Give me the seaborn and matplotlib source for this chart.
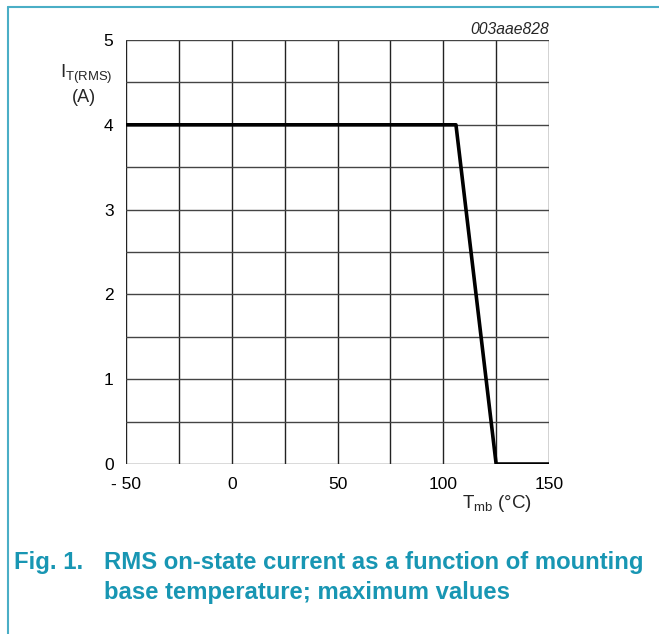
import matplotlib
matplotlib.use("Agg")
import matplotlib.pyplot as plt
import seaborn as sns
import pandas as pd
from matplotlib.lines import Line2D

sns.set_theme(style="white")
plt.rcParams['font.family'] = ['Liberation Sans', 'DejaVu Sans']
plt.rcParams['mathtext.fontset'] = 'custom'
plt.rcParams['mathtext.rm'] = 'Liberation Sans'

temp = [-50, 106, 125, 150]
current = [4, 4, 0, 0]
xticks = [-50, 0, 50, 100, 150]
xticklabels = ['- 50', '0', '50', '100', '150']
yticks = [0, 1, 2, 3, 4, 5]

df = pd.DataFrame({'Tmb': temp, 'I': current})

fig = plt.figure(figsize=(6.59, 6.34), dpi=100)
ax = fig.add_axes([0.1912, 0.2681, 0.6419, 0.6688])

# grid
for gx in range(-50, 151, 25):
    ax.axvline(gx, color='#222222', lw=1.0, zorder=1)
for gy in [i * 0.5 for i in range(11)]:
    ax.axhline(gy, color='#444444', lw=1.0, zorder=1)

sns.lineplot(data=df, x='Tmb', y='I', ax=ax, color='black', lw=2.6, zorder=3)

ax.set_xlim(-50, 150)
ax.set_ylim(0, 5)
ax.set_xticks(xticks)
ax.set_xticklabels(xticklabels)
ax.set_yticks(yticks)
ax.tick_params(axis='both', length=0, labelsize=12.5, colors='black')
ax.tick_params(axis='y', pad=9)
ax.tick_params(axis='x', pad=9.5)
for s in ax.spines.values():
    s.set_visible(False)
ax.set_xlabel('')
ax.set_ylabel('')

fig.text(113 / 659, 1 - 74 / 634, r'I$_{\mathregular{T(RMS)}}$', ha='right', va='center', fontsize=13.5)
fig.text(84 / 659, 1 - 97 / 634, '(A)', ha='center', va='center', fontsize=13)
fig.text(497 / 659, 1 - 504 / 634, r'T$_{\mathregular{mb}}$ (°C)', ha='center', va='center', fontsize=13.5)
fig.text(549 / 659, 1 - 30 / 634, '003aae828', ha='right', va='center', fontsize=11.3, style='italic')

cap = '#1896b3'
fig.text(14 / 659, 1 - 563 / 634, 'Fig. 1.', ha='left', va='center', fontsize=17.2, fontweight='bold', color=cap)
fig.text(104 / 659, 1 - 563 / 634, 'RMS on-state current as a function of mounting', ha='left', va='center', fontsize=17.2, fontweight='bold', color=cap)
fig.text(104 / 659, 1 - 593 / 634, 'base temperature; maximum values', ha='left', va='center', fontsize=17.2, fontweight='bold', color=cap)

frame = '#4aaec6'
fig.add_artist(Line2D([8 / 659, 8 / 659], [0, 1 - 7 / 634], transform=fig.transFigure, color=frame, lw=1.5))
fig.add_artist(Line2D([8 / 659, 1], [1 - 7 / 634, 1 - 7 / 634], transform=fig.transFigure, color=frame, lw=1.5))

fig.savefig('out.png', dpi=100)
